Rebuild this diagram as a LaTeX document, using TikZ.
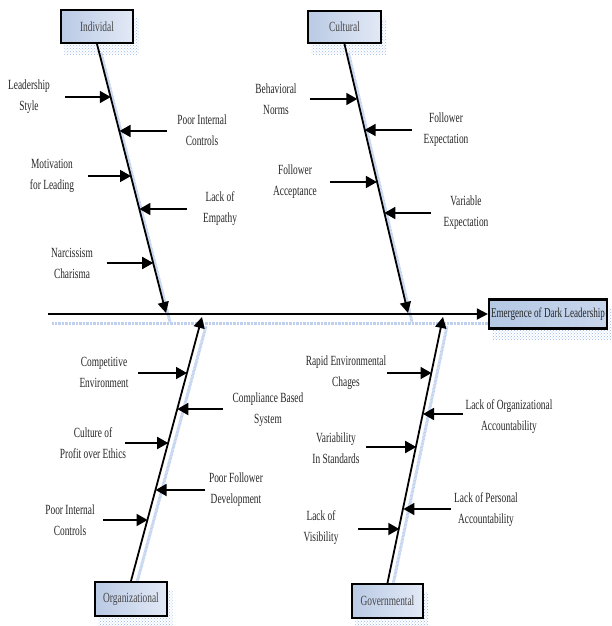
\documentclass[tikz,border=0pt]{standalone}
\usepackage{fontspec}
\setmainfont{Liberation Serif}[FakeStretch=0.67]
\usetikzlibrary{arrows.meta,patterns,calc}
\definecolor{catL}{RGB}{186,202,228}
\definecolor{catR}{RGB}{226,233,246}
\definecolor{headL}{RGB}{180,200,228}
\definecolor{headR}{RGB}{200,214,236}
\definecolor{shd}{RGB}{190,208,238}
\definecolor{shdbox}{RGB}{150,182,232}
\definecolor{cattext}{RGB}{70,70,70}
\begin{document}
\begin{tikzpicture}[x=1pt,y=-1pt,
  catbox/.style={draw=black, line width=2.2pt, left color=catL, right color=catR,
    text=cattext, font=\fontsize{14}{16}\selectfont, inner sep=0pt},
  headbox/.style={draw=black, line width=2.2pt, left color=headL, right color=headR,
    text=black!85, font=\fontsize{13.6}{16}\selectfont, inner sep=0pt,
    minimum width=118pt, minimum height=29pt},
  lbl/.style={align=center, font=\fontsize{14}{21}\selectfont, inner sep=0pt, text=black!85},
  bone/.style={line width=1.8pt, -{Triangle[length=11pt,width=11pt]}},
  subarrow/.style={line width=1.8pt, -{Triangle[length=11pt,width=12pt]}},
  shadowline/.style={line width=3pt, draw=shd, dash pattern=on 0.9pt off 0.5pt},
  shadowbox/.style={pattern=crosshatch dots, pattern color=shdbox}
]
\useasboundingbox (0,0) rectangle (611,626);

% ---------- category boxes (positions) ----------
\path (97,26.5) node[catbox, minimum width=72pt, minimum height=33pt] (ind) {Individal};
\path (344.5,27) node[catbox, minimum width=73pt, minimum height=32pt] (cul) {Cultural};
\path (131,599) node[catbox, minimum width=72pt, minimum height=34pt] (org) {Organizational};
\path (387.5,601) node[catbox, minimum width=71pt, minimum height=34pt] (gov) {Governmental};
\path (548,314) node[headbox] (head) {Emergence of Dark Leadership};

% ---------- bone end coordinates ----------
\coordinate (sp) at (48,314);
\coordinate (ib) at (166,313);
\coordinate (cb) at (408,313);
\coordinate (ob) at (202,317);
\coordinate (gb) at (443,317);

% ---------- shadows ----------
\foreach \n in {ind,cul,org,gov,head}{
  \path[shadowbox] ($(\n.south west)+(4.5,10)$) rectangle ($(\n.north east)+(4.5,10)$);
}
\draw[shadowline] ($(sp)+(4,9)$) -- ($(head.west)+(4,9)$);
\draw[shadowline] ($(ind.south)+(4,9)$) -- ($(ib)+(4,9)$);
\draw[shadowline] ($(cul.south)+(4,9)$) -- ($(cb)+(4,9)$);
\draw[shadowline] ($(org.north)+(4,9)$) -- ($(ob)+(4,9)$);
\draw[shadowline] ($(gov.north)+(4,9)$) -- ($(gb)+(4,9)$);

% redraw boxes above shadows
\path (97,26.5) node[catbox, minimum width=72pt, minimum height=33pt] {Individal};
\path (344.5,27) node[catbox, minimum width=73pt, minimum height=32pt] {Cultural};
\path (131,599) node[catbox, minimum width=72pt, minimum height=34pt] {Organizational};
\path (387.5,601) node[catbox, minimum width=71pt, minimum height=34pt] {Governmental};
\path (548,314) node[headbox] {Emergence of Dark Leadership};

% ---------- spine and bones ----------
\draw[bone] (sp) -- (head.west);
\draw[bone] (ind.south) -- (ib);
\draw[bone] (cul.south) -- (cb);
\draw[bone] (org.north) -- (ob);
\draw[bone] (gov.north) -- (gb);

% ---------- cause labels ----------
\node[lbl] (l1) at (29,97) {Leadership\\Style};
\node[lbl] (l2) at (202,130) {Poor Internal\\Controls};
\node[lbl] (l3) at (52,176) {Motivation\\for Leading};
\node[lbl] (l4) at (220,209) {Lack of\\Empathy};
\node[lbl] (l5) at (72,263) {Narcissism\\Charisma};
\node[lbl] (l6) at (276,99) {Behavioral\\Norms};
\node[lbl] (l7) at (446,130) {Follower\\Expectation};
\node[lbl] (l8) at (295,182) {Follower\\Acceptance};
\node[lbl] (l9) at (466,213) {Variable\\Expectation};
\node[lbl] (l10) at (104,372) {Competitive\\Environment};
\node[lbl] (l11) at (268,410) {Compliance Based\\System};
\node[lbl] (l12) at (93,443) {Culture of\\Profit over Ethics};
\node[lbl] (l13) at (236,490) {Poor Follower\\Development};
\node[lbl] (l14) at (70,520) {Poor Internal\\Controls};
\node[lbl] (l15) at (346,373) {Rapid Environmental\\Chages};
\node[lbl] (l16) at (509,417) {Lack of Organizational\\Accountability};
\node[lbl] (l17) at (336,448) {Variability\\In Standards};
\node[lbl] (l18) at (486,510) {Lack of Personal\\Accountability};
\node[lbl] (l19) at (321,528) {Lack of\\Visibility};

% ---------- sub-arrow tails and tips ----------
\coordinate (a1) at (65,97);   \coordinate (p1) at (110.8,97);
\coordinate (a2) at (167,131); \coordinate (p2) at (119.5,131);
\coordinate (a3) at (88,176);  \coordinate (p3) at (131.0,176);
\coordinate (a4) at (187,209); \coordinate (p4) at (139.4,209);
\coordinate (a5) at (107,263); \coordinate (p5) at (153.2,263);
\coordinate (a6) at (310,99);  \coordinate (p6) at (357.3,99);
\coordinate (a7) at (412,130); \coordinate (p7) at (364.6,130);
\coordinate (a8) at (330,182); \coordinate (p8) at (376.9,182);
\coordinate (a9) at (431,213); \coordinate (p9) at (384.3,213);
\coordinate (a10) at (138,373); \coordinate (p10) at (187.0,373);
\coordinate (a11) at (223,409); \coordinate (p11) at (177.3,409);
\coordinate (a12) at (125,443); \coordinate (p12) at (168.2,443);
\coordinate (a13) at (205,490); \coordinate (p13) at (155.6,490);
\coordinate (a14) at (103,520); \coordinate (p14) at (147.6,520);
\coordinate (a15) at (387,373); \coordinate (p15) at (431.5,373);
\coordinate (a16) at (463,414); \coordinate (p16) at (423.0,414);
\coordinate (a17) at (366,447); \coordinate (p17) at (416.2,447);
\coordinate (a18) at (451,509); \coordinate (p18) at (403.4,509);
\coordinate (a19) at (358,529); \coordinate (p19) at (399.3,529);

\foreach \i in {1,...,19}{
  \draw[subarrow] (a\i) -- (p\i);
}
\end{tikzpicture}
\end{document}
